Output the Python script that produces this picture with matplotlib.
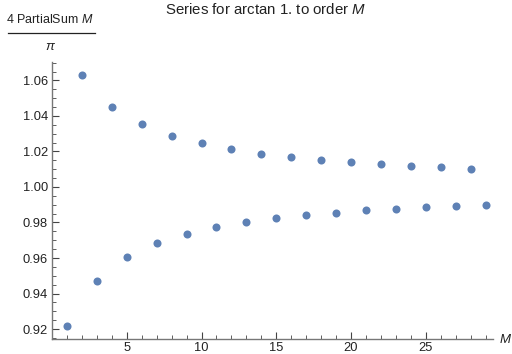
import matplotlib
matplotlib.use('Agg')
import matplotlib.pyplot as plt
from matplotlib.ticker import MultipleLocator

plt.rcParams['font.family'] = ['Liberation Sans', 'DejaVu Sans']
plt.rcParams['mathtext.fontset'] = 'custom'
plt.rcParams['mathtext.rm'] = 'Liberation Sans'
plt.rcParams['mathtext.it'] = 'Liberation Sans:italic'

# order M and 4*PartialSum/pi
orders = list(range(1, 30))
ratio = [0.9216, 1.0631, 0.9473, 1.0452, 0.9604, 1.0353, 0.9683, 1.0289,
         0.9735, 1.0245, 0.9773, 1.0212, 0.9801, 1.0187, 0.9823, 1.0167,
         0.9841, 1.0152, 0.9855, 1.0138, 0.9868, 1.0127, 0.9878, 1.0118,
         0.9886, 1.0110, 0.9894, 1.0103, 0.9901]
xticks = [5, 10, 15, 20, 25]
yticks = [0.92, 0.94, 0.96, 0.98, 1.00, 1.02, 1.04, 1.06]

fig = plt.figure(figsize=(5.12, 3.54), dpi=100)
ax = fig.add_axes([0.1016, 0.0424, 0.8614, 0.7826])

ax.plot(orders, ratio, 'o', color='#5E81B5', markersize=5.8, markeredgewidth=0)

ax.set_xlim(0, 29.5)
ax.set_ylim(0.9144, 1.0704)
ax.spines['top'].set_visible(False)
ax.spines['right'].set_visible(False)
for s in ['left', 'bottom']:
    ax.spines[s].set_color('#777777')
    ax.spines[s].set_linewidth(1.0)

ax.set_xticks(xticks)
ax.set_yticks(yticks)
ax.set_yticklabels(['%.2f' % v for v in yticks])
ax.xaxis.set_minor_locator(MultipleLocator(1))
ax.yaxis.set_minor_locator(MultipleLocator(0.005))
ax.tick_params(which='major', direction='in', length=5, width=0.8,
               color='#444444', labelsize=9.3, labelcolor='#222222', pad=3)
ax.tick_params(which='minor', direction='in', length=3, width=0.6, color='#444444')
ax.tick_params(axis='x', pad=2)

fig.text(0.518, 0.972, 'Series for arctan 1. to order $M$', ha='center', va='center',
         fontsize=10.8, color='#222222')
fig.text(0.098, 0.944, '4 PartialSum $M$', ha='center', va='center', fontsize=9,
         color='#222222')
fig.add_artist(plt.Line2D([0.016, 0.185], [0.907, 0.907], color='#222222', linewidth=0.9))
fig.text(0.098, 0.866, r'$\pi$', ha='center', va='center', fontsize=9.5, color='#222222')
fig.text(0.974, 0.04, '$M$', ha='left', va='center', fontsize=9.5, color='#222222')

fig.savefig('out.png', dpi=100)
